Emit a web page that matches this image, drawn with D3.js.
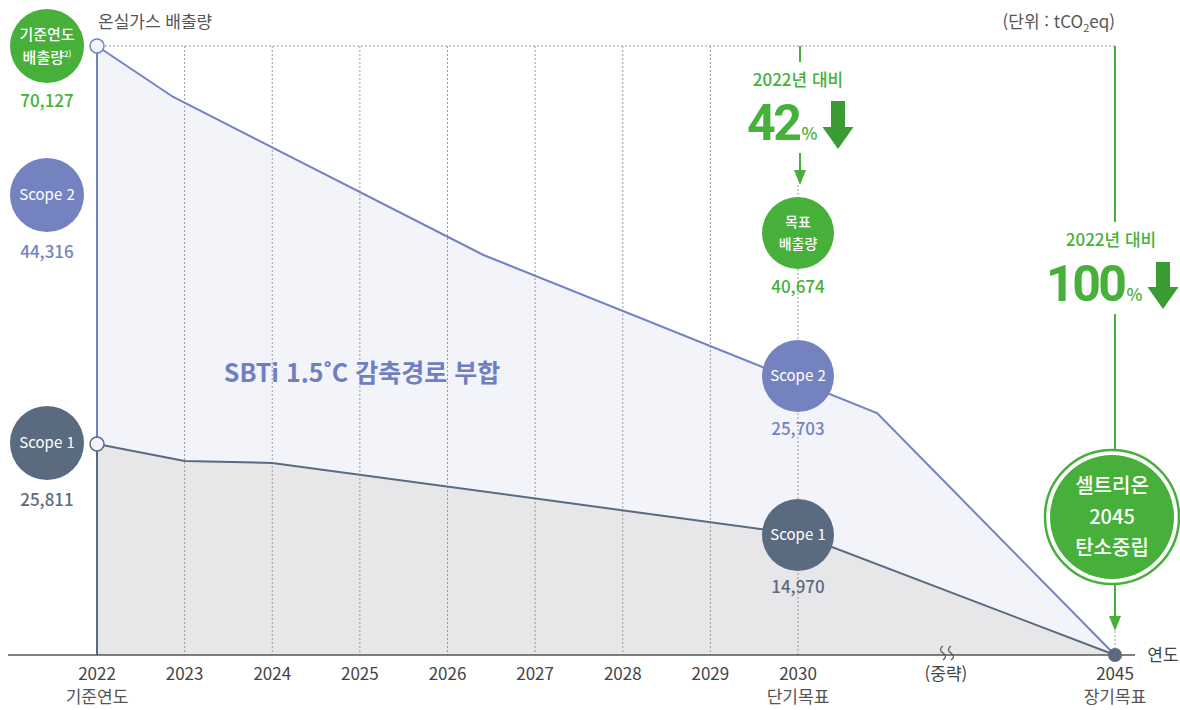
<!DOCTYPE html>
<html lang="ko">
<head>
<meta charset="utf-8">
<script src="https://cdn.jsdelivr.net/npm/d3@7/dist/d3.min.js"></script>
<style>
  body { margin: 0; background: #fff; }
  svg text { font-family: "Noto Sans CJK KR", "Noto Sans", sans-serif; }
</style>
</head>
<body>
<div id="chart"></div>
<script>
// tick years on the axis
const years = [2022, 2023, 2024, 2025, 2026, 2027, 2028, 2029, 2030, 2045];
const yearLabels = ['2022', '2023', '2024', '2025', '2026', '2027', '2028', '2029', '2030', '2045'];
const subLabels = { 2022: '기준연도', 2030: '단기목표', 2045: '장기목표' };
const breakYear = 2037; // "(중략)" marker

// path of total emissions (scope 1+2)
const totalYears = [2022, 2022.87, 2026.41, 2033.74, 2045];
const totalValues = [70127, 64254, 46060, 27866, 0];

// path of scope 1 emissions
const scope1Years = [2022, 2023, 2024, 2030, 2045];
const scope1Values = [24300, 22340, 22110, 13930, 0];

// labelled figures
const baseTotal = 70127, baseScope2 = 44316, baseScope1 = 25811;
const targetTotal = 40674, targetScope2 = 25703, targetScope1 = 14970;
const cut2030 = 42, cut2045 = 100;

const green = '#46b03a', greenDark = '#3a9c33';
const blue = '#7483c0', slate = '#5a6b80';

const W = 1180, H = 710;
const svg = d3.select('#chart').append('svg')
  .attr('width', W).attr('height', H);

// piecewise x scale, years after 2030 are squeezed
const x = d3.scaleLinear().domain([2022, 2030, 2045]).range([97, 798, 1115]);
const y = d3.scaleLinear().domain([0, 70127]).range([655, 46]);

const fmt = d3.format(',');

const totalData = totalYears.map((d, i) => ({ year: d, value: totalValues[i] }));
const scope1Data = scope1Years.map((d, i) => ({ year: d, value: scope1Values[i] }));

// areas
const area = d3.area().x(d => x(d.year)).y0(y(0)).y1(d => y(d.value));
const line = d3.line().x(d => x(d.year)).y(d => y(d.value));

svg.append('path').datum(totalData).attr('d', area).attr('fill', '#f3f4fa');
svg.append('path').datum(scope1Data).attr('d', area).attr('fill', '#e7e7ea');

// grid lines (dotted), the 2030 one starts below the annotation
svg.selectAll('.grid').data(years.slice(1, 9)).enter().append('line')
  .attr('x1', d => x(d)).attr('x2', d => x(d))
  .attr('y1', d => d === 2030 ? 185 : y(baseTotal)).attr('y2', y(0))
  .attr('stroke', '#9a9a9a').attr('stroke-width', 1).attr('stroke-dasharray', '2,2');

svg.append('line')
  .attr('x1', x(2022)).attr('x2', x(2045))
  .attr('y1', y(baseTotal)).attr('y2', y(baseTotal))
  .attr('stroke', '#9a9a9a').attr('stroke-width', 1).attr('stroke-dasharray', '2,2');

// lines
svg.append('path').datum(totalData).attr('d', line)
  .attr('fill', 'none').attr('stroke', blue).attr('stroke-width', 2);
svg.append('path').datum(scope1Data).attr('d', line)
  .attr('fill', 'none').attr('stroke', slate).attr('stroke-width', 2);

// left edge
svg.append('line').attr('x1', x(2022)).attr('x2', x(2022))
  .attr('y1', y(baseTotal)).attr('y2', y(scope1Values[0]))
  .attr('stroke', blue).attr('stroke-width', 2);
svg.append('line').attr('x1', x(2022)).attr('x2', x(2022))
  .attr('y1', y(scope1Values[0])).attr('y2', y(0))
  .attr('stroke', slate).attr('stroke-width', 2);

// axis
svg.append('line').attr('x1', 8).attr('x2', 1135)
  .attr('y1', y(0)).attr('y2', y(0))
  .attr('stroke', '#555').attr('stroke-width', 1.5);

svg.selectAll('.tick').data(years).enter().append('text')
  .attr('x', d => x(d)).attr('y', 680)
  .attr('text-anchor', 'middle').attr('font-size', 17).attr('fill', '#444')
  .text((d, i) => yearLabels[i]);

svg.selectAll('.sub').data(years.filter(d => subLabels[d])).enter().append('text')
  .attr('x', d => x(d)).attr('y', 703)
  .attr('text-anchor', 'middle').attr('font-size', 17).attr('fill', '#555')
  .text(d => subLabels[d]);

svg.append('text').attr('x', x(breakYear)).attr('y', 680)
  .attr('text-anchor', 'middle').attr('font-size', 17).attr('fill', '#444').text('(중략)');

// squiggle break marks
[-4, 4].forEach(dx => {
  const bx = x(breakYear) + dx;
  svg.append('path')
    .attr('d', `M${bx + 1},${646} q-5,3.5 0,7 q5,3.5 0,7`)
    .attr('fill', 'none').attr('stroke', '#555').attr('stroke-width', 1.2);
});

svg.append('text').attr('x', 1163).attr('y', 661)
  .attr('text-anchor', 'middle').attr('font-size', 17).attr('fill', '#444').text('연도');

// titles
svg.append('text').attr('x', 98).attr('y', 28)
  .attr('font-size', 17).attr('fill', '#555').text('온실가스 배출량');

const unit = svg.append('text').attr('x', 1115).attr('y', 28)
  .attr('text-anchor', 'end').attr('font-size', 17).attr('fill', '#555');
unit.append('tspan').text('(단위 : tCO');
unit.append('tspan').attr('font-size', 11).attr('dy', 4).text('2');
unit.append('tspan').attr('dy', -4).text('eq)');

svg.append('text').attr('x', 362).attr('y', 382)
  .attr('text-anchor', 'middle').attr('font-size', 25).attr('font-weight', 'bold')
  .attr('fill', '#6f7fbf').text('SBTi 1.5˚C 감축경로 부합');

// point markers at 2022
[[baseTotal, blue], [scope1Values[0], slate]].forEach(([v, c]) => {
  svg.append('circle').attr('cx', x(2022)).attr('cy', y(v)).attr('r', 7)
    .attr('fill', '#f3f4fa').attr('stroke', c).attr('stroke-width', 1.5);
});

// helper: label bubble
function bubble(cx, cy, r, fill, lines, size) {
  svg.append('circle').attr('cx', cx).attr('cy', cy).attr('r', r).attr('fill', fill);
  const t = svg.append('text').attr('x', cx).attr('text-anchor', 'middle')
    .attr('font-size', size).attr('fill', '#fff');
  const lh = size * 1.55;
  lines.forEach((l, i) => {
    t.append('tspan').attr('x', cx)
      .attr('y', cy + (i - (lines.length - 1) / 2) * lh + size * 0.36).text(l);
  });
  return t;
}
function valueText(cx, cy, v, color) {
  svg.append('text').attr('x', cx).attr('y', cy).attr('text-anchor', 'middle')
    .attr('font-size', 17).attr('font-weight', 500).attr('fill', color).text(fmt(v));
}

// left column
const lx = 47;
const tb = bubble(lx, 46, 37, green, ['기준연도', '배출량'], 15).attr('font-weight', 500);
tb.select('tspan:last-child').append('tspan').attr('font-size', 8).attr('dy', -6).text('2)');
valueText(lx, 107, baseTotal, green);
bubble(lx, 195, 37, blue, ['Scope 2'], 15);
valueText(lx, 258, baseScope2, blue);
bubble(lx, 443, 37, slate, ['Scope 1'], 15);
valueText(lx, 506, baseScope1, slate);

// big percentage (digits in Roboto to keep the box tight)
function bigPercent(px, py, v) {
  const t = svg.append('text').attr('x', px).attr('y', py).attr('fill', green);
  t.append('tspan').attr('font-family', 'Roboto').attr('font-weight', 'bold')
    .attr('font-size', 50).attr('letter-spacing', -2.5).text(v);
  t.append('tspan').attr('font-size', 17).attr('font-weight', 500).attr('dx', 2).text('%');
}

function bigArrow(cx, top, bottom) {
  const hw = 15.5, sw = 7, headTop = bottom - 22;
  svg.append('path')
    .attr('d', `M${cx - sw},${top} H${cx + sw} V${headTop} H${cx + hw} L${cx},${bottom} L${cx - hw},${headTop} H${cx - sw} Z`)
    .attr('fill', greenDark);
}

function smallArrow(cx, top, bottom) {
  svg.append('line').attr('x1', cx).attr('x2', cx).attr('y1', top).attr('y2', bottom - 14)
    .attr('stroke', green).attr('stroke-width', 2);
  svg.append('path').attr('d', `M${cx - 6},${bottom - 15} H${cx + 6} L${cx},${bottom} Z`)
    .attr('fill', green);
}

// 2030 column
const cx30 = x(2030);
svg.append('line').attr('x1', cx30 + 2).attr('x2', cx30 + 2).attr('y1', 46).attr('y2', 62)
  .attr('stroke', green).attr('stroke-width', 2);
svg.append('text').attr('x', cx30).attr('y', 86).attr('text-anchor', 'middle')
  .attr('font-size', 17).attr('font-weight', 500).attr('fill', green).text('2022년 대비');
bigPercent(747, 140, cut2030);
bigArrow(838, 101, 149);
smallArrow(cx30 + 2, 153, 185);

bubble(cx30, 233, 36, green, ['목표', '배출량'], 14).attr('font-weight', 500);
valueText(cx30, 293, targetTotal, green);
bubble(cx30, 376, 36, blue, ['Scope 2'], 15);
valueText(cx30, 435, targetScope2, blue);
bubble(cx30, 535, 36, slate, ['Scope 1'], 15);
valueText(cx30, 593, targetScope1, slate);

// 2045 column
const cx45 = x(2045);
svg.append('line').attr('x1', cx45).attr('x2', cx45).attr('y1', 46).attr('y2', 222)
  .attr('stroke', green).attr('stroke-width', 2);
svg.append('text').attr('x', 1111).attr('y', 246).attr('text-anchor', 'middle')
  .attr('font-size', 17).attr('font-weight', 500).attr('fill', green).text('2022년 대비');
bigPercent(1046, 301, cut2045);
bigArrow(1163, 262, 309);

svg.append('line').attr('x1', cx45).attr('x2', cx45).attr('y1', 314).attr('y2', 452)
  .attr('stroke', green).attr('stroke-width', 2);
smallArrow(cx45, 583, 631);
svg.append('line').attr('x1', cx45).attr('x2', cx45).attr('y1', 631).attr('y2', 650)
  .attr('stroke', '#9a9a9a').attr('stroke-dasharray', '2,2');

svg.append('circle').attr('cx', 1112).attr('cy', 517).attr('r', 67)
  .attr('fill', '#fff').attr('stroke', green).attr('stroke-width', 2.5);
bubble(1112, 517, 62, green, ['셀트리온', '2045', '탄소중립'], 20)
  .attr('font-weight', 500);

// end point
svg.append('circle').attr('cx', x(2045)).attr('cy', y(0)).attr('r', 7).attr('fill', slate);
</script>
</body>
</html>
